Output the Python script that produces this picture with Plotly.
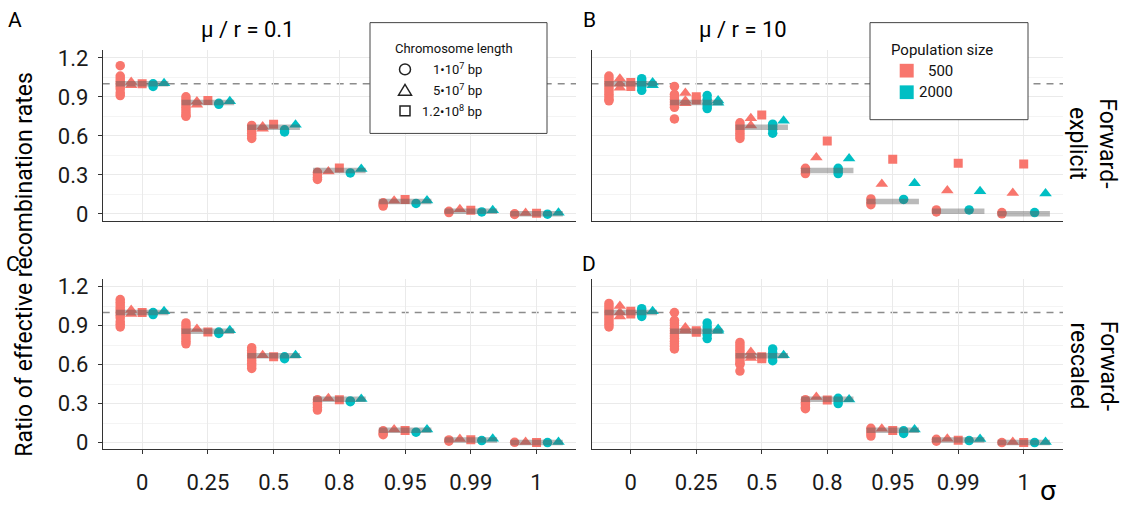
import plotly.graph_objects as go

# ---- categories -------------------------------------------------------------
SIGMA_LABELS = ["0", "0.25", "0.5", "0.8", "0.95", "0.99", "1"]
EXPECTED = [1.0, 0.857, 0.667, 0.333, 0.095, 0.020, 0.0]

# ---- replicate ratios per panel / group (one inner list per sigma) ----------
# Panel A: mu/r = 0.1, forward-explicit
A_500_1e7 = [[1.14, 1.06, 1.04, 1.02, 1.00, 0.98, 0.96, 0.93, 0.91],
             [0.90, 0.88, 0.86, 0.84, 0.82, 0.80, 0.78, 0.76, 0.75],
             [0.68, 0.66, 0.64, 0.62, 0.60, 0.58],
             [0.32, 0.30, 0.28, 0.265],
             [0.085, 0.07, 0.06],
             [0.02, 0.01],
             [0.0, -0.005]]
A_500_5e7 = [[1.015, 0.99], [0.865, 0.84], [0.672, 0.655], [0.325], [0.10], [0.035], [0.007]]
A_500_12e7 = [[1.0], [0.873], [0.69], [0.352], [0.11], [0.028], [0.005]]
A_2000_1e7 = [[1.0, 0.98], [0.843, 0.85], [0.647, 0.63], [0.315], [0.08], [0.015], [-0.003]]
A_2000_5e7 = [[1.005], [0.866], [0.685], [0.345], [0.103], [0.028], [0.008]]

# Panel B: mu/r = 10, forward-explicit
B_500_1e7 = [[1.06, 1.04, 1.02, 1.0, 0.98, 0.96, 0.94, 0.92, 0.90, 0.88, 0.87],
             [0.98, 0.92, 0.90, 0.88, 0.86, 0.84, 0.82, 0.73],
             [0.70, 0.68, 0.66, 0.64, 0.62, 0.60, 0.58],
             [0.35, 0.33, 0.31],
             [0.115, 0.09, 0.07],
             [0.03, 0.015],
             [0.01, 0.0]]
B_500_5e7 = [[1.04, 1.0, 0.97], [0.93, 0.87, 0.85], [0.735, 0.68], [0.433], [0.23], [0.18], [0.16]]
B_500_12e7 = [[1.01, 0.98], [0.90, 0.875], [0.76], [0.56], [0.42], [0.39], [0.383]]
B_2000_1e7 = [[1.04, 1.02, 1.0, 0.98, 0.95], [0.91, 0.88, 0.85, 0.83, 0.81],
              [0.69, 0.67, 0.65, 0.62], [0.35, 0.33, 0.31], [0.111], [0.03], [0.01]]
B_2000_5e7 = [[1.01, 0.99], [0.873, 0.855], [0.717], [0.425], [0.236], [0.174], [0.156]]

# Panel C: mu/r = 0.1, forward-rescaled
C_500_1e7 = [[1.10, 1.08, 1.06, 1.04, 1.02, 1.0, 0.98, 0.96, 0.93, 0.91, 0.89],
             [0.92, 0.90, 0.88, 0.86, 0.84, 0.82, 0.80, 0.78, 0.76],
             [0.73, 0.71, 0.69, 0.67, 0.65, 0.63, 0.61, 0.59, 0.57],
             [0.33, 0.31, 0.29, 0.27, 0.25],
             [0.09, 0.07, 0.06],
             [0.02, 0.01],
             [0.002]]
C_500_5e7 = [[1.02, 0.99], [0.873], [0.672], [0.34], [0.10], [0.027], [0.005]]
C_500_12e7 = [[1.0], [0.85], [0.66], [0.33], [0.093], [0.022], [0.0]]
C_2000_1e7 = [[1.0, 0.985], [0.85, 0.84], [0.66, 0.645], [0.32, 0.314], [0.08], [0.015], [0.0]]
C_2000_5e7 = [[1.01], [0.865], [0.672], [0.335], [0.10], [0.03], [0.005]]

# Panel D: mu/r = 10, forward-rescaled
D_500_1e7 = [[1.07, 1.05, 1.03, 1.01, 0.99, 0.97, 0.95, 0.93, 0.91, 0.89],
             [1.0, 0.94, 0.92, 0.90, 0.88, 0.86, 0.84, 0.82, 0.80, 0.78, 0.76, 0.74, 0.72],
             [0.77, 0.75, 0.73, 0.71, 0.69, 0.67, 0.65, 0.63, 0.61, 0.60, 0.55],
             [0.33, 0.31, 0.29, 0.27, 0.26],
             [0.11, 0.09, 0.07, 0.05],
             [0.025, 0.01],
             [0.0]]
D_500_5e7 = [[1.05, 1.0, 0.97], [0.885, 0.87, 0.86], [0.697, 0.67, 0.65], [0.35], [0.106], [0.03], [0.005]]
D_500_12e7 = [[1.01, 0.99], [0.86, 0.848], [0.66, 0.645], [0.327], [0.093], [0.017], [0.0]]
D_2000_1e7 = [[1.03, 1.01, 0.99, 0.97], [0.92, 0.89, 0.86, 0.83, 0.80],
              [0.72, 0.69, 0.66, 0.63], [0.34, 0.32, 0.30], [0.09, 0.07], [0.015], [0.0]]
D_2000_5e7 = [[1.01], [0.873, 0.86], [0.672], [0.332], [0.10], [0.028], [0.005]]

PANELS = {
    "A": [A_500_1e7, A_500_5e7, A_500_12e7, A_2000_1e7, A_2000_5e7],
    "B": [B_500_1e7, B_500_5e7, B_500_12e7, B_2000_1e7, B_2000_5e7],
    "C": [C_500_1e7, C_500_5e7, C_500_12e7, C_2000_1e7, C_2000_5e7],
    "D": [D_500_1e7, D_500_5e7, D_500_12e7, D_2000_1e7, D_2000_5e7],
}

# ---- styling ----------------------------------------------------------------
W, H = 1125, 509
PINK, TEAL = "#F8766D", "#00BFC4"
FONT = "Roboto"
GROUP_STYLE = [  # (colour, symbol, size, dodge offset)
    (PINK, "circle", 9.5, -2 / 6),
    (PINK, "triangle-up", 11, -1 / 6),
    (PINK, "square", 9, 0.0),
    (TEAL, "circle", 9.5, 1 / 6),
    (TEAL, "triangle-up", 11, 2 / 6),
]
AXES = {"A": ("x", "y"), "B": ("x2", "y2"), "C": ("x3", "y3"), "D": ("x4", "y4")}


def px(x):
    return x / W


def py(y):
    return 1 - y / H


fig = go.Figure()

for name, groups in PANELS.items():
    xa, ya = AXES[name]
    for (col, sym, size, off), series in zip(GROUP_STYLE, groups):
        xs, ys = [], []
        for i, vals in enumerate(series):
            xs += [i + 1 + off] * len(vals)
            ys += vals
        fig.add_trace(go.Scatter(
            x=xs, y=ys, mode="markers", xaxis=xa, yaxis=ya, showlegend=False,
            marker=dict(color=col, symbol=sym, size=size, line=dict(width=0)),
            hoverinfo="skip"))
    # expected-value segments drawn over the points
    lx, ly = [], []
    for i, e in enumerate(EXPECTED):
        lx += [i + 1 - 0.4, i + 1 + 0.4, None]
        ly += [e, e, None]
    fig.add_trace(go.Scatter(
        x=lx, y=ly, mode="lines", xaxis=xa, yaxis=ya, showlegend=False,
        line=dict(color="rgba(90,90,90,0.42)", width=5.5), hoverinfo="skip"))

# ---- axes -------------------------------------------------------------------
X_DOM = {"L": [px(102.7), px(576)], "R": [px(591.5), px(1063)]}
Y_DOM = {"T": [py(221), py(47)], "B": [py(454.3), py(280.3)]}
Y_RANGE = [-0.0525, 1.26]
GRID = "#EAEAEA"
MINOR = "#F4F4F4"
AXLINE = "#333333"
TICKFONT = dict(family=FONT, size=22, color="#1a1a1a")

layout_axes = {}
for idx, (name, col, row) in enumerate([("A", "L", "T"), ("B", "R", "T"),
                                         ("C", "L", "B"), ("D", "R", "B")]):
    sfx = "" if idx == 0 else str(idx + 1)
    bottom = row == "B"
    left = col == "L"
    layout_axes["xaxis" + sfx] = dict(
        domain=X_DOM[col], range=[0.4, 7.6], anchor="y" + sfx,
        tickmode="array", tickvals=list(range(1, 8)), ticktext=SIGMA_LABELS,
        showticklabels=bottom, ticks="outside" if bottom else "",
        ticklen=4, tickcolor=AXLINE, tickfont=TICKFONT, ticklabelstandoff=9,
        showgrid=True, gridcolor=GRID, gridwidth=1, zeroline=False,
        showline=True, linecolor=AXLINE, linewidth=1)
    layout_axes["yaxis" + sfx] = dict(
        domain=Y_DOM[row], range=Y_RANGE, anchor="x" + sfx,
        tickmode="array", tickvals=[0, 0.3, 0.6, 0.9, 1.2],
        ticktext=["0", "0.3", "0.6", "0.9", "1.2"],
        showticklabels=left, ticks="outside" if left else "",
        ticklen=4, tickcolor=AXLINE, tickfont=TICKFONT, ticklabelstandoff=5,
        showgrid=True, gridcolor=GRID, gridwidth=1, zeroline=False,
        minor=dict(tickmode="array", tickvals=[0.15, 0.45, 0.75, 1.05],
                   showgrid=True, gridcolor=MINOR, gridwidth=1, ticks=""),
        showline=True, linecolor=AXLINE, linewidth=1)

# ---- reference line at ratio 1 ----------------------------------------------
shapes = []
for idx in range(4):
    sfx = "" if idx == 0 else str(idx + 1)
    shapes.append(dict(type="line", xref="x" + sfx + " domain", yref="y" + sfx,
                       x0=0, x1=1, y0=1.0, y1=1.0, layer="below",
                       line=dict(color="#8C8C8C", width=1.5, dash="7px,6px")))

# ---- legend boxes -------------------------------------------------------------
shapes.append(dict(type="rect", xref="paper", yref="paper",
                   x0=px(370), x1=px(547), y0=py(132), y1=py(19),
                   fillcolor="white", line=dict(color="#444", width=1), layer="above"))
shapes.append(dict(type="rect", xref="paper", yref="paper",
                   x0=px(870), x1=px(1028), y0=py(118), y1=py(19),
                   fillcolor="white", line=dict(color="#444", width=1), layer="above"))

# chromosome-length keys (open outlines)
kx = 405
shapes.append(dict(type="circle", xref="paper", yref="paper",
                   x0=px(kx - 5.5), x1=px(kx + 5.5), y0=py(66.7 + 5.5), y1=py(66.7 - 5.5),
                   line=dict(color="#222", width=1.5), layer="above"))
ty = 88
shapes.append(dict(type="path", xref="paper", yref="paper",
                   path=f"M {px(kx - 6.5)},{py(ty + 5)} L {px(kx + 6.5)},{py(ty + 5)} "
                        f"L {px(kx)},{py(ty - 6)} Z",
                   line=dict(color="#222", width=1.5), layer="above"))
shapes.append(dict(type="rect", xref="paper", yref="paper",
                   x0=px(kx - 5), x1=px(kx + 5), y0=py(109 + 5), y1=py(109 - 5),
                   line=dict(color="#222", width=1.5), layer="above"))

# population-size keys (filled squares)
for yy, col in [(68, PINK), (90, TEAL)]:
    shapes.append(dict(type="rect", xref="paper", yref="paper",
                       x0=px(906.7 - 7), x1=px(906.7 + 7), y0=py(yy + 7), y1=py(yy - 7),
                       fillcolor=col, line=dict(width=0), layer="above"))


def ann(text, x, y, size, xanchor="center", angle=0, color="#000"):
    return dict(text=text, x=px(x), y=py(y), xref="paper", yref="paper",
                xanchor=xanchor, yanchor="middle", showarrow=False, textangle=angle,
                font=dict(family=FONT, size=size, color=color))


annotations = [
    ann("Ratio of effective recombination rates", 25, 266, 23, angle=-90),
    ann("A", 15, 16, 21), ann("B", 589, 16, 21),
    ann("C", 13, 265, 21), ann("D", 589, 265, 21),
    ann("μ / r = 0.1", 247, 26, 22), ann("μ / r = 10", 743, 26, 22),
    ann("Forward-<br>explicit", 1093, 142, 23, angle=90),
    ann("Forward-<br>rescaled", 1093, 369, 23, angle=90),
    ann("σ", 1048, 496, 28),
    ann("Chromosome length", 454, 45, 13, color="#111"),
    ann("1•10<sup>7</sup> bp", 484, 66.7, 13, xanchor="right", color="#111"),
    ann("5•10<sup>7</sup> bp", 484, 88, 13, xanchor="right", color="#111"),
    ann("1.2•10<sup>8</sup> bp", 484, 109, 13, xanchor="right", color="#111"),
    ann("Population size", 941.7, 46.7, 15, color="#111"),
    ann("500", 955, 68, 15, xanchor="right", color="#111"),
    ann("2000", 955, 90, 15, xanchor="right", color="#111"),
]

fig.update_layout(
    width=W, height=H, margin=dict(l=0, r=0, t=0, b=0),
    paper_bgcolor="white", plot_bgcolor="white",
    font=dict(family=FONT, color="#000"),
    showlegend=False, shapes=shapes, annotations=annotations,
    **layout_axes)

fig.write_html("out.html")
